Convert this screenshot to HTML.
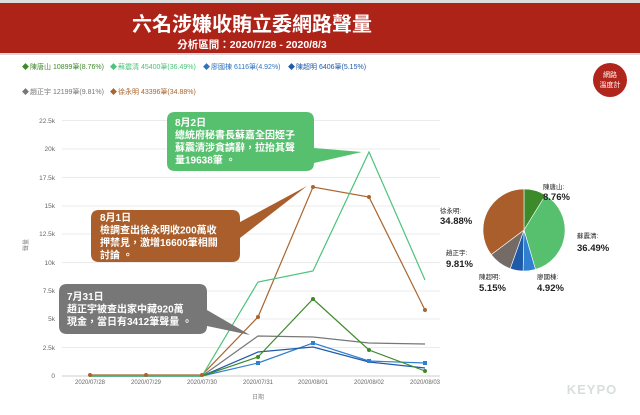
<!DOCTYPE html>
<html><head><meta charset="utf-8"><style>
body{margin:0;width:640px;height:410px;background:#fff;overflow:hidden;font-family:"Liberation Sans","Noto Sans CJK TC",sans-serif;}
</style></head><body>
<svg width="640" height="410" xmlns="http://www.w3.org/2000/svg" font-family="Liberation Sans, Noto Sans CJK TC, sans-serif">
<rect x="0" y="0" width="640" height="3" fill="#ddd"/>
<rect x="0" y="3" width="640" height="50" fill="#ae2318"/>
<rect x="0" y="53" width="640" height="2" fill="#d8d8d8"/>
<text x="252" y="31" fill="#fff" font-size="20" font-weight="bold" text-anchor="middle">六名涉嫌收賄立委網路聲量</text>
<text x="252" y="48" fill="#fff" font-size="10.5" font-weight="bold" text-anchor="middle">分析區間：2020/7/28 - 2020/8/3</text>
<g font-size="7">
<text x="22" y="69" fill="#3d8a2a">◆</text><text x="30" y="69" fill="#3d8a2a">陳唐山 10899筆(8.76%)</text>
<text x="110" y="69" fill="#4cc37a">◆</text><text x="118" y="69" fill="#4cc37a">蘇震清 45400筆(36.49%)</text>
<text x="203" y="69" fill="#2f73c0">◆</text><text x="211" y="69" fill="#2f73c0">廖國棟 6116筆(4.92%)</text>
<text x="288" y="69" fill="#1f5aa8">◆</text><text x="296" y="69" fill="#1f5aa8">陳超明 6406筆(5.15%)</text>
<text x="22" y="94" fill="#777">◆</text><text x="30" y="94" fill="#777">趙正宇 12199筆(9.81%)</text>
<text x="110" y="94" fill="#a8652f">◆</text><text x="118" y="94" fill="#a8652f">徐永明 43396筆(34.88%)</text>
</g>
<circle cx="610" cy="80" r="17" fill="#b0261c"/>
<text x="610" y="77" fill="#fff" font-size="7" text-anchor="middle">網路</text>
<text x="610" y="87" fill="#fff" font-size="7" text-anchor="middle">溫度計</text>
<g stroke="#ebebeb" stroke-width="1">
<line x1="62" x2="440" y1="120.5" y2="120.5"/><line x1="62" x2="440" y1="149" y2="149"/><line x1="62" x2="440" y1="177.5" y2="177.5"/><line x1="62" x2="440" y1="206" y2="206"/><line x1="62" x2="440" y1="234" y2="234"/><line x1="62" x2="440" y1="262.5" y2="262.5"/><line x1="62" x2="440" y1="291" y2="291"/><line x1="62" x2="440" y1="319" y2="319"/><line x1="62" x2="440" y1="347.5" y2="347.5"/>
</g>
<line x1="62" x2="440" y1="376" y2="376" stroke="#ccc"/>
<g font-size="6.5" fill="#666" text-anchor="end">
<text x="55" y="123">22.5k</text><text x="55" y="151">20k</text><text x="55" y="180">17.5k</text><text x="55" y="208">15k</text><text x="55" y="236">12.5k</text><text x="55" y="265">10k</text><text x="55" y="293">7.5k</text><text x="55" y="321">5k</text><text x="55" y="350">2.5k</text><text x="55" y="378">0</text>
</g>
<g font-size="6" fill="#666" text-anchor="middle">
<text x="90" y="384">2020/07/28</text><text x="146" y="384">2020/07/29</text><text x="202" y="384">2020/07/30</text><text x="258" y="384">2020/07/31</text><text x="313" y="384">2020/08/01</text><text x="369" y="384">2020/08/02</text><text x="425" y="384">2020/08/03</text>
</g>
<text x="258" y="399" font-size="6" fill="#888" text-anchor="middle">日期</text>
<text x="28" y="245" font-size="6" fill="#888" text-anchor="middle" transform="rotate(-90 28 245)">聲量</text>
<g fill="none" stroke-width="1.2">
<polyline stroke="#777" points="90,376 146,376 202,376 258,336 313,337 369,343 425,344"/>
<polyline stroke="#2f80d0" points="90,376 146,376 202,376 258,363 313,343 369,361 425,363"/>
<polyline stroke="#1f5aa8" points="90,376 146,376 202,376 258,352 313,347 369,362 425,368"/>
<polyline stroke="#3d8a2a" points="90,376 146,376 202,376 258,357 313,299 369,350 425,371"/>
<polyline stroke="#a8652f" points="90,375 146,375 202,375 258,317 313,187 369,197 425,310"/>
<polyline stroke="#4cc37a" points="90,376 146,376 202,376 258,282 313,271 369,152 425,280"/>
</g>
<g fill="#a8652f"><circle cx="258" cy="317" r="2"/><circle cx="313" cy="187" r="2"/><circle cx="369" cy="197" r="2"/><circle cx="425" cy="310" r="2"/><circle cx="90" cy="375" r="2"/><circle cx="146" cy="375" r="2"/><circle cx="202" cy="375" r="2"/></g>
<g fill="#3d8a2a"><circle cx="258" cy="357" r="2"/><circle cx="313" cy="299" r="2"/><circle cx="369" cy="350" r="2"/><circle cx="425" cy="371" r="2"/></g>
<g fill="#2f80d0"><rect x="256" y="361" width="4" height="4"/><rect x="311" y="341" width="4" height="4"/><rect x="367" y="359" width="4" height="4"/><rect x="423" y="361" width="4" height="4"/></g>
<!-- callouts -->
<path d="M175,112 H306 Q314,112 314,120 V148 L362,152 L314,163 Q314,171 306,171 H175 Q167,171 167,163 V120 Q167,112 175,112Z" fill="#57c06e"/>
<g fill="#fff" font-size="10" font-weight="bold"><text x="175" y="126">8月2日</text><text x="175" y="138.5">總統府秘書長蘇嘉全因姪子</text><text x="175" y="151">蘇震清涉貪請辭，拉抬其聲</text><text x="175" y="163.5">量19638筆 。</text></g>
<path d="M99,210 H232 Q240,210 240,218 V222 L307,186 L240,238 V254 Q240,262 232,262 H99 Q91,262 91,254 V218 Q91,210 99,210Z" fill="#a95e2b"/>
<g fill="#fff" font-size="10" font-weight="bold"><text x="100" y="221">8月1日</text><text x="100" y="233.5">檢調查出徐永明收200萬收</text><text x="100" y="246">押禁見，激增16600筆相關</text><text x="100" y="258.5">討論 。</text></g>
<path d="M67,284 H199 Q207,284 207,292 V310 L250,335 L207,326 Q207,334 199,334 H67 Q59,334 59,326 V292 Q59,284 67,284Z" fill="#777"/>
<g fill="#fff" font-size="10" font-weight="bold"><text x="67" y="300">7月31日</text><text x="67" y="312.5">趙正宇被查出家中藏920萬</text><text x="67" y="325">現金，當日有3412筆聲量 。</text></g>
<!-- pie -->
<g stroke="#fff" stroke-width="0.6">
<path d="M524,230 L524,189 A41,41 0 0 1 545.5,195.1Z" fill="#3d8a2a"/>
<path d="M524,230 L545.5,195.1 A41,41 0 0 1 535.5,269.4Z" fill="#57c06e"/>
<path d="M524,230 L535.5,269.4 A41,41 0 0 1 523.1,271Z" fill="#2f80d0"/>
<path d="M524,230 L523.1,271 A41,41 0 0 1 510.2,268.6Z" fill="#1f5aa8"/>
<path d="M524,230 L510.2,268.6 A41,41 0 0 1 491.2,254.6Z" fill="#756b66"/>
<path d="M524,230 L491.2,254.6 A41,41 0 0 1 524,189Z" fill="#a95e2b"/>
</g>
<g font-size="6.5" fill="#222"><text x="543" y="189">陳唐山:</text><text x="577" y="238">蘇震清:</text><text x="537" y="279">廖國棟:</text><text x="479" y="279">陳超明:</text><text x="446" y="255">趙正宇:</text><text x="440" y="213">徐永明:</text></g>
<g font-size="9.5" fill="#222" font-weight="bold"><text x="543" y="200">8.76%</text><text x="577" y="251">36.49%</text><text x="537" y="291">4.92%</text><text x="479" y="291">5.15%</text><text x="446" y="267">9.81%</text><text x="440" y="224">34.88%</text></g>
<text x="592" y="394" font-size="13" font-weight="bold" fill="#d8dede" text-anchor="middle" letter-spacing="1">KEYPO</text>
</svg>
</body></html>
